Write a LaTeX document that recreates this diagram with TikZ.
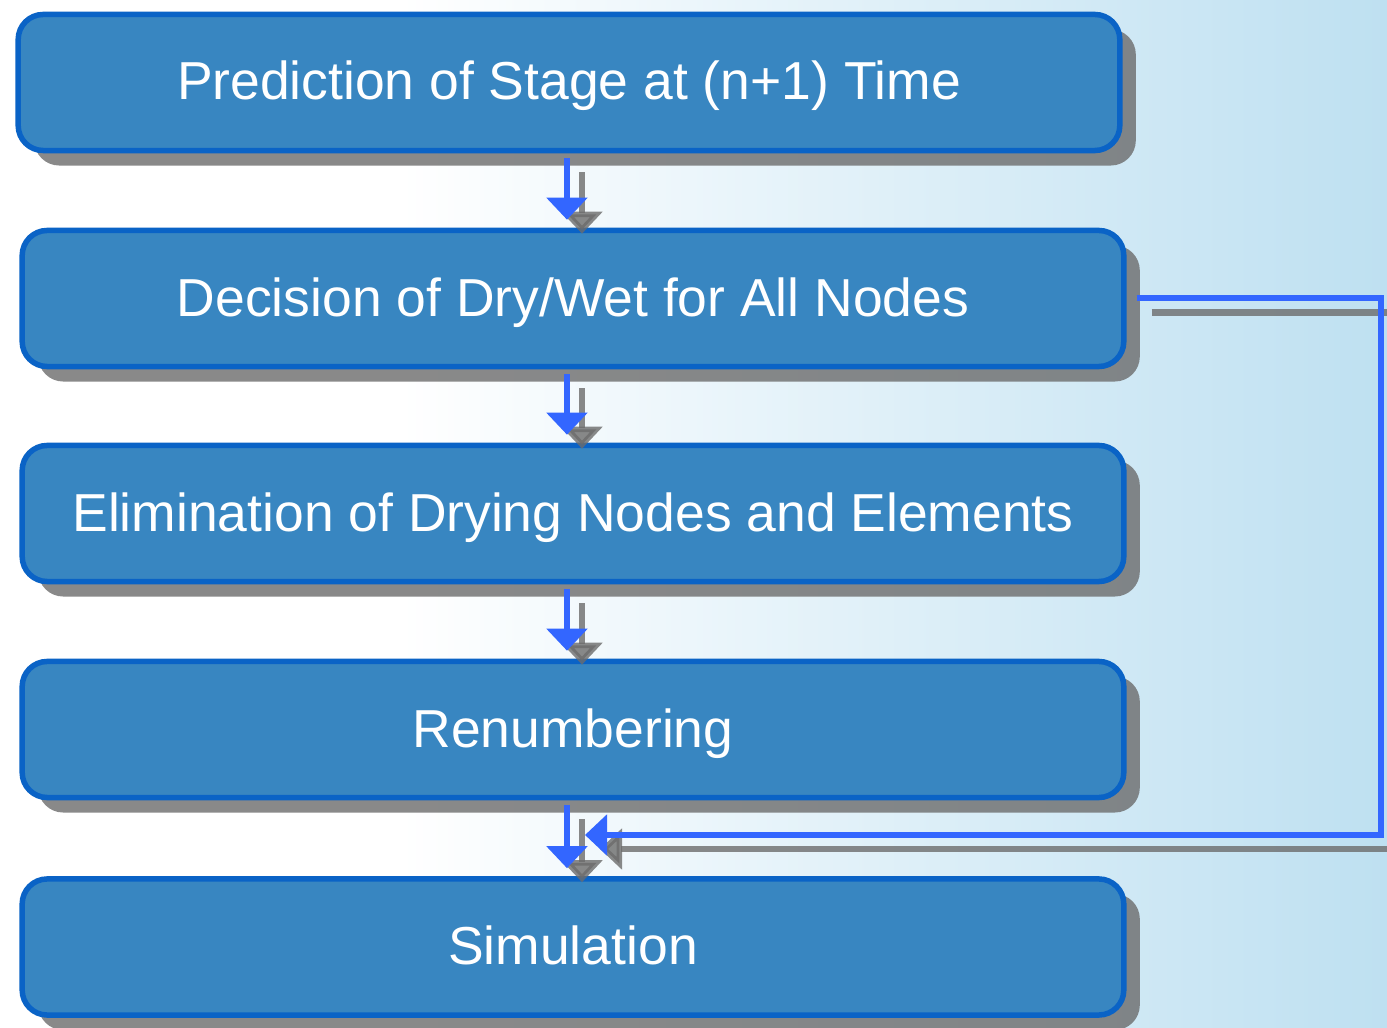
\documentclass[tikz,border=0pt]{standalone}
\usepackage{fontspec}
\setmainfont{Liberation Sans}
\usetikzlibrary{arrows.meta, shadows, calc}

\definecolor{boxfill}{RGB}{56,134,193}
\definecolor{boxline}{RGB}{10,99,198}
\definecolor{flowblue}{RGB}{51,102,255}
\definecolor{skyback}{RGB}{190,224,241}

\begin{document}
\begin{tikzpicture}[x=0.01cm, y=-0.01cm, line cap=butt, line join=miter,
    stagebox/.style={draw=boxline, line width=0.055cm, fill=boxfill, rounded corners=0.25cm,
        minimum width=11.01cm, minimum height=1.36cm, text=white,
        text height=0.45cm, text depth=0.1cm,
        font=\fontsize{15.2}{18}\selectfont,
        drop shadow={shadow xshift=0.16cm, shadow yshift=-0.15cm, fill=gray!85!black, opacity=0.8}},
    flow/.style={draw=flowblue, line width=0.06cm, -{Triangle[width=0.4cm, length=0.22cm]}},
    flowshadow/.style={flow, draw=gray!85!black, opacity=0.8,
        transform canvas={xshift=0.15cm, yshift=-0.14cm}}]

    % Frame and background
    \clip (0,0) rectangle (1387,1028);
    \fill[white] (0,0) rectangle (400,1028);
    \shade[left color=white, right color=skyback] (400,0) rectangle (1387,1028);

    % Stages
    \node[stagebox] (pred) at (569,82.5) {Prediction of Stage at (n+1) Time};
    \node[stagebox] (dec) at (573,298.5) {Decision of Dry/Wet for All Nodes};
    \node[stagebox] (elim) at (573,513.5) {Elimination of Drying Nodes and Elements};
    \node[stagebox] (renum) at (573,729.5) {Renumbering};
    \node[stagebox] (sim) at (573,947) {Simulation};

    % Arrow column and feedback corners
    \coordinate (ax) at (567,0);
    \coordinate (fbturn) at (1381,835);
    \coordinate (fbtip) at (585,835);

    % Arrow shadows
    \draw[flowshadow] ($(pred.south -| ax)+(0,5)$) -- ($(dec.north -| ax)-(0,8)$);
    \draw[flowshadow] ($(dec.south -| ax)+(0,5)$) -- ($(elim.north -| ax)-(0,8)$);
    \draw[flowshadow] ($(elim.south -| ax)+(0,5)$) -- ($(renum.north -| ax)-(0,8)$);
    \draw[flowshadow] ($(renum.south -| ax)+(0,5)$) -- ($(sim.north -| ax)-(0,8)$);
    \draw[flowshadow] ($(dec.east)+(10,0)$) -| (fbturn) -- (fbtip);

    % Arrows
    \draw[flow] ($(pred.south -| ax)+(0,5)$) -- ($(dec.north -| ax)-(0,8)$);
    \draw[flow] ($(dec.south -| ax)+(0,5)$) -- ($(elim.north -| ax)-(0,8)$);
    \draw[flow] ($(elim.south -| ax)+(0,5)$) -- ($(renum.north -| ax)-(0,8)$);
    \draw[flow] ($(renum.south -| ax)+(0,5)$) -- ($(sim.north -| ax)-(0,8)$);

    % Feedback from dry/wet decision
    \draw[flow] ($(dec.east)+(10,0)$) -| (fbturn) -- (fbtip);

\end{tikzpicture}
\end{document}
